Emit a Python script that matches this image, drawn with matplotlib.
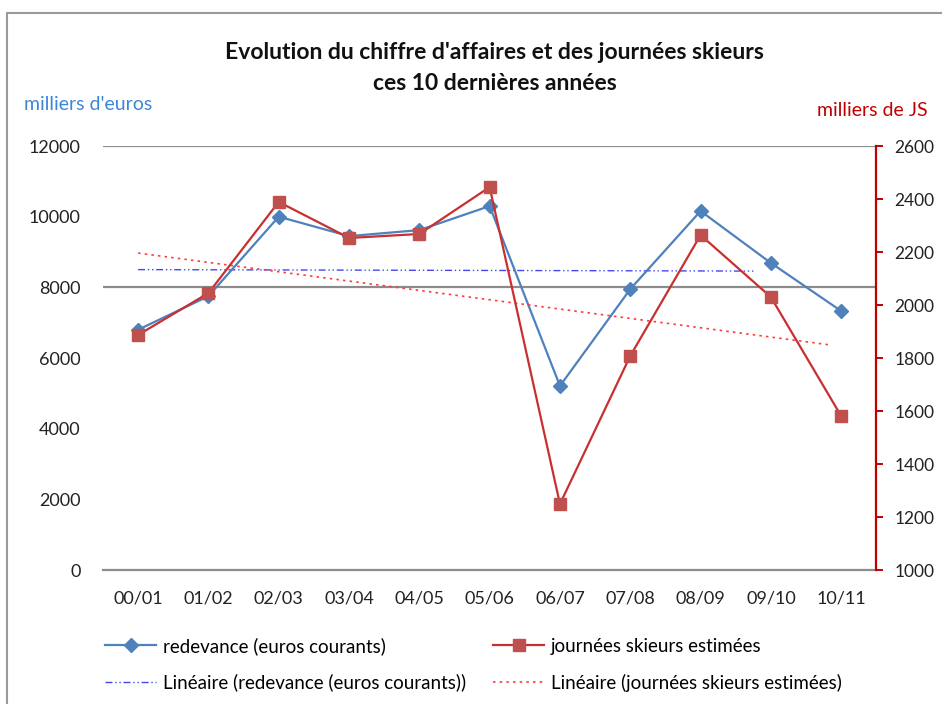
import numpy as np
import matplotlib
matplotlib.use("Agg")
import matplotlib.pyplot as plt
from matplotlib.patches import Rectangle

plt.rcParams['font.family'] = ['Lato', 'DejaVu Sans']

saisons = ['00/01', '01/02', '02/03', '03/04', '04/05', '05/06',
           '06/07', '07/08', '08/09', '09/10', '10/11']
redevance = [6800, 7750, 10000, 9450, 9620, 10300, 5210, 7950, 10160, 8690, 7330]
journees = [1887, 2045, 2389, 2253, 2268, 2445, 1249, 1808, 2264, 2030, 1581]
gauche_ticks = [0, 2000, 4000, 6000, 8000, 10000, 12000]
droite_ticks = [1000, 1200, 1400, 1600, 1800, 2000, 2200, 2400, 2600]
grille = [8000, 12000]
# how far the excel trend lines run along the category axis
fin_tend_bleu = 8.75
fin_tend_rouge = 9.86

bleu = '#4F81BD'
rouge_l = '#C8302F'
rouge_m = '#C0504D'

fig = plt.figure(figsize=(9.42, 7.04), dpi=100)
ax = fig.add_axes([0.1093, 0.1903, 0.821, 0.6023])
ax2 = ax.twinx()

x = np.arange(len(saisons))

for g in grille:
    ax.axhline(g, color='#8C8C8C', lw=1.6, zorder=0)

l1, = ax.plot(x, redevance, color=bleu, lw=1.6, marker='D', ms=7.5,
              label='redevance (euros courants)', zorder=3)
l2, = ax2.plot(x, journees, color=rouge_l, lw=1.6, marker='s', ms=8.5,
               mfc=rouge_m, mec=rouge_m, label='journées skieurs estimées', zorder=3)

# linear trends
pb = np.polyfit(x, redevance, 1)
xb = np.array([0, fin_tend_bleu])
t1, = ax.plot(xb, np.polyval(pb, xb), color='#4646F0', lw=1.0, ls=(0, (5, 2, 1, 2, 1, 2)),
              label='Linéaire (redevance (euros courants))', zorder=2)
pr = np.polyfit(x, journees, 1)
xr = np.array([0, fin_tend_rouge])
t2, = ax2.plot(xr, np.polyval(pr, xr), color='#FF3B3B', lw=1.2, ls=(0, (1.5, 2.5)),
               label='Linéaire (journées skieurs estimées)', zorder=2)

ax.set_xlim(-0.5, 10.5)
ax.set_ylim(0, 12000)
ax2.set_ylim(1000, 2600)
ax.set_yticks(gauche_ticks)
ax2.set_yticks(droite_ticks)
ax.set_xticks(x)
ax.set_xticklabels(saisons)

for s in ['top', 'left', 'right']:
    ax.spines[s].set_visible(False)
for s in ['top', 'left', 'bottom']:
    ax2.spines[s].set_visible(False)
ax.spines['bottom'].set_color('#8C8C8C')
ax.spines['bottom'].set_linewidth(1.6)
ax2.spines['right'].set_color('#C00000')
ax2.spines['right'].set_linewidth(1.6)

ax.tick_params(axis='y', length=0, pad=16, labelsize=13, labelcolor='#222222')
ax.tick_params(axis='x', length=0, pad=15, labelsize=13, labelcolor='#222222')
ax2.tick_params(axis='y', length=5, width=1.4, color='#C00000', direction='out',
                pad=8, labelsize=12.5, labelcolor='#222222')

fig.text(0.525, 0.926, "Evolution du chiffre d'affaires et des journées skieurs",
         ha='center', va='center', fontsize=16.5, fontweight='bold', color='#111111')
fig.text(0.525, 0.882, "ces 10 dernières années",
         ha='center', va='center', fontsize=16.5, fontweight='bold', color='#111111')
fig.text(0.026, 0.851, "milliers d'euros", ha='left', va='center',
         fontsize=14, color='#3C86D8')
fig.text(0.867, 0.843, "milliers de JS", ha='left', va='center',
         fontsize=14, color='#C00000')

fig.legend(handles=[l1, t1, l2, t2], loc='upper left', bbox_to_anchor=(0.104, 0.106),
           ncol=2, frameon=False, fontsize=13.5, handlelength=2.7, handletextpad=0.37,
           columnspacing=1.45, labelspacing=1.0, borderaxespad=0)

# chart frame
fig.patches.append(Rectangle((0.007, -0.05), 1.2, 1.032, transform=fig.transFigure,
                             fill=False, ec='#9A9A9A', lw=1.5))

fig.savefig('out.png', dpi=100)
